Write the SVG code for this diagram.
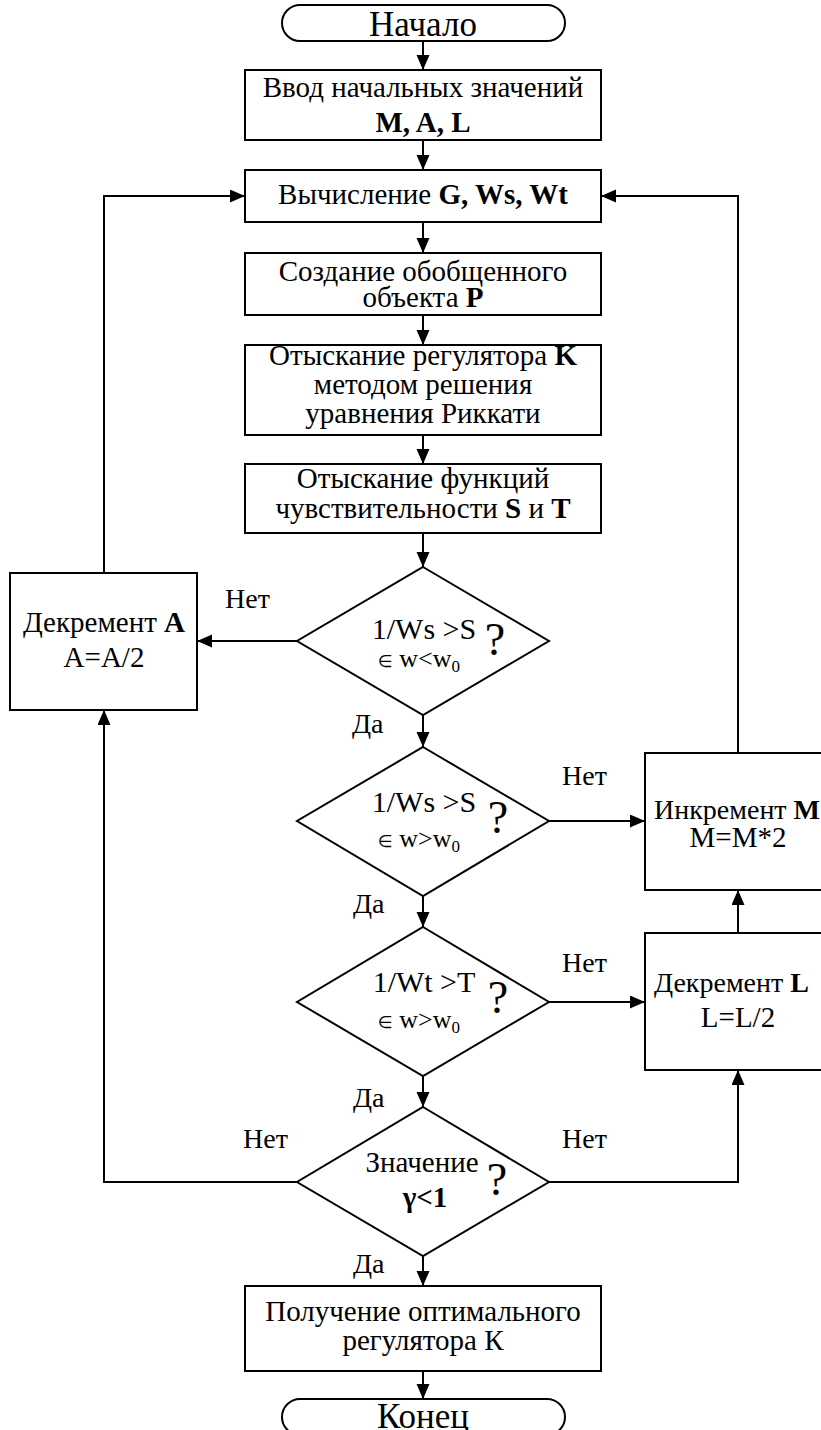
<svg xmlns="http://www.w3.org/2000/svg" width="821" height="1430" viewBox="0 0 821 1430">
<style>
.s{fill:#fff;stroke:#000;stroke-width:2}
.c{fill:none;stroke:#000;stroke-width:2}
text{font-family:"Liberation Serif","Times New Roman",serif;fill:#000}
.t{font-size:29px}
.lb{font-size:28px}
.r{font-size:28px}
.m{text-anchor:middle}
.big{font-size:35px}
.dq{font-size:30px}
.q{font-size:46px;text-anchor:middle}
.b{font-weight:bold}
.e{font-family:"DejaVu Sans",sans-serif;font-size:17px}
.l2{font-size:26px}
.sub{font-size:17px}
</style>
<defs>
<marker id="ah" markerUnits="userSpaceOnUse" markerWidth="16" markerHeight="14" refX="15" refY="6.5" orient="auto">
<path d="M0,0 L15,6.5 L0,13 z" fill="#000"/>
</marker>
</defs>
<g id="connectors" class="c" marker-end="url(#ah)">
<line x1="423" y1="41" x2="423" y2="70"/>
<line x1="423" y1="140" x2="423" y2="170"/>
<line x1="423" y1="222" x2="423" y2="253"/>
<line x1="423" y1="315" x2="423" y2="345"/>
<line x1="423" y1="435" x2="423" y2="464"/>
<line x1="423" y1="533" x2="423" y2="567"/>
<line x1="297" y1="641" x2="197" y2="641"/>
<line x1="423" y1="715" x2="423" y2="747"/>
<line x1="549" y1="821" x2="645" y2="821"/>
<line x1="423" y1="896" x2="423" y2="927"/>
<line x1="549" y1="1002" x2="645" y2="1002"/>
<line x1="423" y1="1076" x2="423" y2="1107"/>
<line x1="423" y1="1256" x2="423" y2="1286"/>
<line x1="423" y1="1371" x2="423" y2="1399"/>
<polyline points="738,753 738,196 601,196"/>
<polyline points="104,573 104,196 245,196"/>
<line x1="738" y1="933" x2="738" y2="890"/>
<polyline points="549,1182 738,1182 738,1070"/>
<polyline points="297,1182 104,1182 104,710"/>
</g>
<g id="start">
<rect class="s" x="282" y="5" width="283" height="36" rx="18"/>
<text class="big m" x="423" y="36">Начало</text>
</g>
<g id="input">
<rect class="s" x="245" y="70" width="356" height="70"/>
<text class="t m" x="423" y="97">Ввод начальных значений</text>
<text class="t m b" x="423" y="132">M, A, L</text>
</g>
<g id="compute">
<rect class="s" x="245" y="170" width="356" height="52"/>
<text class="t m" x="423" y="204">Вычисление <tspan class="b">G, Ws, Wt</tspan></text>
</g>
<g id="plant">
<rect class="s" x="245" y="253" width="356" height="62"/>
<text class="t m" x="423" y="281">Создание обобщенного</text>
<text class="t m" x="423" y="307">объекта <tspan class="b">P</tspan></text>
</g>
<g id="riccati">
<rect class="s" x="245" y="345" width="356" height="90"/>
<text class="t m" x="423" y="365">Отыскание регулятора <tspan class="b">K</tspan></text>
<text class="t m" x="423" y="394">методом решения</text>
<text class="t m" x="423" y="423">уравнения Риккати</text>
</g>
<g id="sens">
<rect class="s" x="245" y="464" width="356" height="69"/>
<text class="t m" x="423" y="488">Отыскание функций</text>
<text class="t m" x="423" y="518">чувствительности <tspan class="b">S</tspan> и <tspan class="b">T</tspan></text>
</g>
<g id="d1">
<polygon class="s" points="423,567 549,641 423,715 297,641"/>
<text class="dq m" x="424" y="639">1/Ws &gt;S</text>
<text x="378" y="667"><tspan class="e">∈</tspan><tspan class="l2"> w&lt;w</tspan><tspan class="sub" dy="5">0</tspan></text>
<text class="q" x="495" y="655">?</text>
</g>
<g id="decA">
<rect class="s" x="10" y="573" width="187" height="137"/>
<text class="t m" x="104" y="632">Декремент <tspan class="b">A</tspan></text>
<text class="t m" x="104" y="667">A=A/2</text>
</g>
<g id="d2">
<polygon class="s" points="423,747 549,821 423,896 297,821"/>
<text class="dq m" x="424" y="812">1/Ws &gt;S</text>
<text x="378" y="847"><tspan class="e">∈</tspan><tspan class="l2"> w&gt;w</tspan><tspan class="sub" dy="5">0</tspan></text>
<text class="q" x="498" y="833">?</text>
</g>
<g id="incM">
<rect class="s" x="645" y="753" width="200" height="137"/>
<text class="r" x="654" y="819">Инкремент <tspan class="b">M</tspan></text>
<text class="t m" x="738" y="847">M=M*2</text>
</g>
<g id="d3">
<polygon class="s" points="423,927 549,1002 423,1076 297,1002"/>
<text class="dq m" x="424" y="992">1/Wt &gt;T</text>
<text x="378" y="1028"><tspan class="e">∈</tspan><tspan class="l2"> w&gt;w</tspan><tspan class="sub" dy="5">0</tspan></text>
<text class="q" x="498" y="1013">?</text>
</g>
<g id="decL">
<rect class="s" x="645" y="933" width="200" height="137"/>
<text class="r" x="654" y="992">Декремент <tspan class="b">L</tspan></text>
<text class="t m" x="738" y="1027">L=L/2</text>
</g>
<g id="d4">
<polygon class="s" points="423,1107 549,1182 423,1256 297,1182"/>
<text class="t m" x="422" y="1172">Значение</text>
<text class="t m b" x="425" y="1207">γ&lt;1</text>
<text class="q" x="497" y="1195">?</text>
</g>
<g id="result">
<rect class="s" x="245" y="1286" width="356" height="85"/>
<text class="t m" x="423" y="1321">Получение оптимального</text>
<text class="t m" x="423" y="1350">регулятора К</text>
</g>
<g id="end">
<rect class="s" x="282" y="1399" width="283" height="36" rx="18"/>
<text class="big m" x="423" y="1428">Конец</text>
</g>
<g id="labels">
<text class="lb" x="225" y="608">Нет</text>
<text class="lb" x="352" y="733">Да</text>
<text class="lb" x="562" y="785">Нет</text>
<text class="lb" x="353" y="913">Да</text>
<text class="lb" x="562" y="972">Нет</text>
<text class="lb" x="353" y="1107">Да</text>
<text class="lb" x="243" y="1148">Нет</text>
<text class="lb" x="562" y="1148">Нет</text>
<text class="lb" x="353" y="1273">Да</text>
</g>
</svg>
